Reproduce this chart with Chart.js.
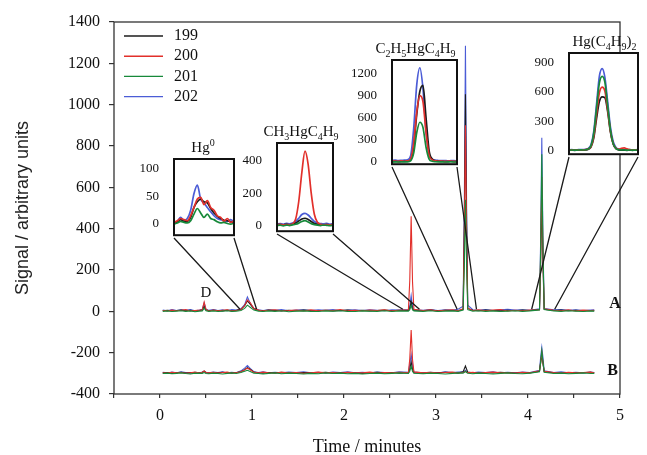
<!DOCTYPE html>
<html>
<head>
<meta charset="utf-8">
<script src="https://cdn.jsdelivr.net/npm/chart.js@4.4.1/dist/chart.umd.min.js"></script>
<style>
html,body{margin:0;padding:0;background:#fff;}
#wrap{position:relative;width:647px;height:455px;overflow:hidden;}
#main{position:absolute;left:0;top:0;}
</style>
</head>
<body>
<div id="wrap"><canvas id="main" width="647" height="455"></canvas></div>
<script>
// ---------------- DATA ----------------
const seriesNames = ['199', '200', '201', '202'];

// main chromatogram time axis (minutes)
const time = [0.03,0.08,0.13,0.18,0.23,0.28,0.33,0.38,0.43,0.46,0.48,0.50,0.53,0.58,0.63,0.68,0.73,0.78,0.83,0.88,
  0.92,0.95,0.98,1.02,1.07,1.12,1.18,1.25,1.32,1.40,1.48,1.56,1.64,1.72,1.80,1.88,1.96,2.04,2.12,2.20,
  2.28,2.36,2.44,2.52,2.60,2.70,2.715,2.73,2.745,2.76,2.86,2.94,3.02,3.10,3.18,3.24,3.295,3.308,3.32,3.333,
  3.345,3.40,3.46,3.54,3.62,3.70,3.78,3.86,3.94,4.02,4.125,4.138,4.15,4.163,4.176,4.28,4.36,4.44,4.52,4.60,4.68,4.72];

// Trace A
const a199 = [3,5,2,4,6,3,5,2,4, 6,25,7, 3,5,4,2,6,3,5, 10,28,50,35,12,
  5,3,6,4,2,5,3,6,4,3,5,2,4,6,3,5,2,4,6,3,5,4, 15,45,12, 4,3,6,2,5,4,3,
  10,430,1050,410,14, 5,3,6,4,2,5,3,6,4, 9,240,560,220,10, 4,6,3,5,2,4,3];
const a200 = [4,2,6,3,5,8,2,4,6, 8,45,9, 2,6,3,5,7,2,4, 8,28,55,42,14,
  6,2,5,8,3,4,6,2,7,3,5,4,8,2,5,3,6,4,7,2,5,8, 150,460,140, 10,4,7,2,5,8,3,
  12,370,900,350,15, 4,7,3,6,9,2,5,3,6, 8,280,650,250,12, 5,3,7,2,6,4,5];
const a201 = [0,2,-1,1,3,0,2,-2,1, 2,15,3, 0,2,-1,1,3,0,1, 4,14,30,20,6,
  1,-1,2,0,3,-2,1,2,0,-1,2,1,3,0,-1,2,1,0,3,-1,2,1, 8,30,7, 2,0,3,-1,1,2,0,
  6,220,540,210,8, 1,3,0,2,-1,1,3,0,2, 7,320,760,290,9, 2,0,3,1,-1,2,1];
const a202 = [6,3,8,4,7,5,9,3,6, 10,40,9, 5,8,4,7,3,9,6, 12,32,70,40,15,
  8,4,7,5,9,3,6,8,4,7,5,9,3,6,8,4,7,5,3,8,6,9, 25,75,22, 8,5,9,4,7,6,10,
  25,520,1285,490,30, 8,5,9,4,7,10,6,8,5, 12,360,840,330,14, 7,9,5,8,4,6,7];

// Trace B (plotted values)
const b199 = [-298,-296,-300,-297,-295,-299,-296,-298,-297, -296,-290,-297, -299,-296,-298,-295,-297,-299,-296,
  -292,-282,-272,-280,-294,
  -297,-299,-296,-298,-295,-297,-300,-296,-298,-297,-295,-299,-297,-296,-298,-300,-297,-295,-298,-296,-299,-297,
  -280,-245,-282, -297,-299,-296,-298,-295,-297,-299, -292,-278,-265,-280,-294,
  -297,-299,-296,-298,-295,-297,-299,-296,-298, -290,-250,-210,-255,-292, -297,-299,-296,-298,-297,-295,-298];
const b200 = [-297,-299,-295,-298,-296,-300,-297,-294,-298, -295,-288,-296, -298,-295,-299,-296,-294,-298,-297,
  -292,-284,-275,-283,-295,
  -298,-294,-297,-299,-295,-298,-296,-300,-297,-294,-298,-296,-299,-295,-297,-298,-294,-299,-296,-298,-295,-297,
  -230,-90,-235, -293,-298,-295,-299,-296,-294,-298, -296,-294,-290,-295,-297,
  -295,-299,-296,-294,-298,-297,-299,-295,-297, -288,-245,-200,-250,-290, -296,-299,-295,-298,-296,-294,-297];
const b201 = [-301,-299,-302,-300,-298,-301,-303,-299,-300, -300,-296,-301, -302,-299,-301,-303,-300,-298,-301,
  -296,-290,-285,-291,-299,
  -301,-303,-300,-298,-302,-299,-301,-303,-300,-302,-298,-301,-299,-302,-300,-303,-301,-299,-302,-300,-298,-301,
  -290,-265,-291, -300,-302,-299,-301,-303,-300,-298, -299,-295,-290,-296,-300,
  -302,-299,-301,-303,-300,-298,-301,-302,-299, -292,-240,-190,-245,-295, -301,-299,-302,-300,-298,-301,-300];
const b202 = [-295,-298,-294,-297,-293,-296,-299,-295,-297, -294,-289,-295, -297,-294,-296,-293,-298,-295,-297,
  -288,-275,-262,-276,-292,
  -296,-293,-297,-295,-298,-294,-296,-293,-297,-295,-299,-294,-296,-293,-297,-295,-298,-294,-296,-297,-293,-295,
  -255,-210,-258, -294,-297,-295,-298,-293,-296,-294, -293,-290,-285,-291,-295,
  -297,-294,-296,-293,-298,-295,-297,-294,-296, -285,-220,-175,-225,-288, -296,-293,-297,-295,-298,-294,-296];

const xTicks = [-0.5,0,0.5,1,1.5,2,2.5,3,3.5,4,4.5,5];
const xTickLabels = ['','0','','1','','2','','3','','4','','5'];
const yTicks = [-400,-200,0,200,400,600,800,1000,1200,1400];

// Insets
const insetTitles = ['Hg⁰', 'CH₃HgC₄H₉', 'C₂H₅HgC₄H₉', 'Hg(C₄H₉)₂'];
const insetWindows = [[0.87,1.05],[2.64,2.82],[3.23,3.44],[4.04,4.29]];
const insetYRanges = [[-20,117],[-35,510],[-30,1385],[-40,1000]];
const insetYTicks = [[0,50,100],[0,200,400],[0,300,600,900,1200],[0,300,600,900]];

const in1Time = [0.87,0.88,0.89,0.90,0.91,0.92,0.93,0.94,0.95,0.96,0.97,0.98,0.99,1.00,1.01,1.02,1.03,1.04,1.05];
const in1_199 = [2,4,8,5,5,12,30,40,45,40,38,28,20,14,10,7,6,4,3];
const in1_200 = [3,6,10,8,6,15,30,45,48,35,42,30,25,15,12,5,10,3,6];
const in1_201 = [0,2,5,3,2,6,18,28,20,12,18,10,8,4,2,3,1,0,2];
const in1_202 = [2,5,12,6,10,25,55,70,45,38,30,22,15,10,8,6,5,8,4];

const in2Time = [2.64,2.65,2.66,2.67,2.68,2.69,2.70,2.71,2.72,2.73,2.74,2.75,2.76,2.77,2.78,2.79,2.80,2.81,2.82];
const in2_199 = [5,6,3,8,5,8,15,28,40,45,38,25,12,8,5,4,6,3,5];
const in2_200 = [5,8,4,6,5,10,40,150,330,460,380,200,70,20,8,5,6,4,8];
const in2_201 = [0,2,-2,3,0,4,8,15,25,30,22,12,6,2,0,3,1,-1,2];
const in2_202 = [10,12,8,14,10,15,25,45,68,75,65,45,25,15,12,10,14,8,12];

const in3Time = [3.23,3.24,3.25,3.26,3.27,3.28,3.29,3.30,3.31,3.32,3.33,3.34,3.35,3.36,3.37,3.38,3.39,3.40,3.41,3.42,3.43,3.44];
const in3_199 = [5,8,6,5,8,10,30,200,650,960,1040,600,150,40,15,10,8,6,5,8,6,5];
const in3_200 = [10,12,8,15,10,15,40,250,680,900,820,400,90,30,15,10,12,8,10,12,8,10];
const in3_201 = [0,2,0,3,1,2,15,120,400,540,470,200,40,10,3,1,2,0,1,3,0,2];
const in3_202 = [20,25,20,22,25,30,80,450,1050,1280,1000,420,100,40,25,20,18,20,15,18,20,15];

const in4Time = [4.04,4.05,4.06,4.07,4.08,4.09,4.10,4.11,4.12,4.13,4.14,4.15,4.16,4.17,4.18,4.19,4.20,4.21,4.22,4.23,4.24,4.25,4.26,4.27,4.28,4.29];
const in4_199 = [0,1,0,1,2,1,3,10,35,130,330,500,550,540,400,190,65,18,5,2,1,0,1,0,1,0];
const in4_200 = [3,4,2,3,5,4,7,15,40,150,380,590,650,610,420,200,70,22,10,20,25,15,8,5,4,5];
const in4_201 = [2,3,1,2,4,3,6,15,50,180,440,690,760,700,460,210,70,20,6,4,3,2,3,1,2,3];
const in4_202 = [5,6,4,5,8,6,10,20,60,200,480,760,840,750,500,240,90,30,12,8,6,5,6,4,5,6];

const zoomAnchorY = 10;
const labelA = {text: 'A', x: 4.945, y: 34};
const labelB = {text: 'B', x: 4.92, y: -290};
const labelD = {text: 'D', x: 0.50, y: 87};

// ---------------- STYLE / LAYOUT ----------------
const colors = ['#1c1c1c', '#e2302b', '#17893a', '#4b5cd6'];
const drawOrder = [2, 1, 0, 3];        // lower = drawn on top
const SERIF = '"Liberation Serif", "DejaVu Serif", "Times New Roman", serif';
const SANS = '"Liberation Sans", Arial, sans-serif';
const insetBoxes = [[174,159,234,238],[277,143,333,234],[392,60,457,167],[569,53,638,157]];
const insetTitleDx = [-1, -4, -9, 1];

// ---------------- HELPERS ----------------
const SUBS = '₀₁₂₃₄₅₆₇₈₉', SUPS = '⁰¹²³⁴⁵⁶⁷⁸⁹';
function chemRuns(text) {
  const runs = [];
  for (const ch of text) {
    let k = 'n', s = ch, i;
    if ((i = SUBS.indexOf(ch)) >= 0) { k = 'sub'; s = String(i); }
    else if ((i = SUPS.indexOf(ch)) >= 0) { k = 'sup'; s = String(i); }
    const last = runs[runs.length - 1];
    if (last && last.k === k) last.s += s; else runs.push({k, s});
  }
  return runs;
}
function drawChem(ctx, text, cx, baseY, size) {
  const runs = chemRuns(text);
  const small = Math.round(size * 0.68);
  let total = 0;
  runs.forEach(r => { ctx.font = (r.k === 'n' ? size : small) + 'px ' + SERIF; r.w = ctx.measureText(r.s).width; total += r.w; });
  let xx = cx - total / 2;
  ctx.textAlign = 'left'; ctx.textBaseline = 'alphabetic';
  runs.forEach(r => {
    ctx.font = (r.k === 'n' ? size : small) + 'px ' + SERIF;
    const dy = r.k === 'sub' ? size * 0.27 : (r.k === 'sup' ? -size * 0.42 : 0);
    ctx.fillText(r.s, xx, baseY + dy);
    xx += r.w;
  });
}
const pts = (t, v) => t.map((x, i) => ({x, y: v[i]}));

// ---------------- MAIN CHART ----------------
const mainSeries = [[a199, b199], [a200, b200], [a201, b201], [a202, b202]];
const datasets = [];
mainSeries.forEach((pair, k) => {
  pair.forEach((vals, j) => {
    datasets.push({
      label: seriesNames[k] + (j ? ' B' : ' A'),
      data: pts(time, vals),
      borderColor: colors[k], backgroundColor: colors[k],
      borderWidth: 1.1, pointRadius: 0, tension: 0, fill: false,
      order: drawOrder[k]
    });
  });
});

const mainDecor = {
  id: 'mainDecor',
  afterDatasetsDraw(chart) {
    const {ctx, chartArea: ca, scales: {x, y}} = chart;
    ctx.save();
    ctx.strokeStyle = '#333'; ctx.lineWidth = 1.3;
    ctx.strokeRect(ca.left, ca.top, ca.right - ca.left, ca.bottom - ca.top);
    // zoom connector lines
    ctx.strokeStyle = '#1a1a1a'; ctx.lineWidth = 1.3;
    insetWindows.forEach((w, k) => {
      const [L, T, R, B] = insetBoxes[k];
      ctx.beginPath();
      ctx.moveTo(x.getPixelForValue(w[0]), y.getPixelForValue(zoomAnchorY)); ctx.lineTo(L, B);
      ctx.moveTo(x.getPixelForValue(w[1]), y.getPixelForValue(zoomAnchorY)); ctx.lineTo(R, B);
      ctx.stroke();
    });
    // legend
    ctx.font = '16px ' + SERIF; ctx.textAlign = 'left'; ctx.textBaseline = 'middle';
    seriesNames.forEach((n, k) => {
      const yy = 36 + k * 20.2;
      ctx.strokeStyle = colors[k]; ctx.lineWidth = 1.4;
      ctx.beginPath(); ctx.moveTo(124, yy); ctx.lineTo(163, yy); ctx.stroke();
      ctx.fillStyle = '#111'; ctx.fillText(n, 174, yy);
    });
    // labels
    ctx.fillStyle = '#111'; ctx.textAlign = 'center';
    ctx.font = 'bold 16px ' + SERIF;
    [labelA, labelB].forEach(l => ctx.fillText(l.text, x.getPixelForValue(l.x), y.getPixelForValue(l.y)));
    ctx.font = '15px ' + SERIF;
    ctx.fillText(labelD.text, x.getPixelForValue(labelD.x), y.getPixelForValue(labelD.y));
    ctx.restore();
  }
};

new Chart(document.getElementById('main'), {
  type: 'line',
  data: {datasets},
  options: {
    responsive: false, animation: false, devicePixelRatio: 1,
    layout: {padding: {left: 0, top: 22, right: 27, bottom: 0}},
    plugins: {legend: {display: false}, tooltip: {enabled: false}, title: {display: false}},
    scales: {
      x: {
        type: 'linear', min: -0.5, max: 5,
        afterFit: s => { s.height = 61; },
        afterBuildTicks: s => { s.ticks = xTicks.map(v => ({value: v})); },
        ticks: {callback: (v, i) => xTickLabels[i], autoSkip: false, maxRotation: 0, padding: 8,
                color: '#111', font: {family: SERIF, size: 16}},
        grid: {display: true, drawOnChartArea: false, drawTicks: true, tickLength: 4, color: '#333', lineWidth: 1.2},
        border: {display: false},
        title: {display: true, text: 'Time / minutes', color: '#111',
                font: {family: SERIF, size: 18, lineHeight: 0.9}, padding: {top: 0, bottom: 0}}
      },
      y: {
        type: 'linear', min: -400, max: 1400,
        afterFit: s => { s.width = 114; },
        afterBuildTicks: s => { s.ticks = yTicks.map(v => ({value: v})); },
        ticks: {callback: v => String(v), padding: 9, color: '#111', font: {family: SERIF, size: 16}},
        grid: {display: true, drawOnChartArea: false, drawTicks: true, tickLength: 5, color: '#333', lineWidth: 1.2},
        border: {display: false},
        title: {display: true, text: 'Signal / arbitrary units', color: '#222',
                font: {family: SANS, size: 18}, padding: {top: 12, bottom: 0}}
      }
    }
  },
  plugins: [mainDecor]
});

// ---------------- INSETS ----------------
const insetData = [
  [in1Time, [in1_199, in1_200, in1_201, in1_202]],
  [in2Time, [in2_199, in2_200, in2_201, in2_202]],
  [in3Time, [in3_199, in3_200, in3_201, in3_202]],
  [in4Time, [in4_199, in4_200, in4_201, in4_202]]
];

const insetDecor = {
  id: 'insetDecor',
  beforeDatasetsDraw(chart) {
    const {ctx, chartArea: ca} = chart;
    ctx.save(); ctx.fillStyle = '#fff';
    ctx.fillRect(ca.left, ca.top, ca.right - ca.left, ca.bottom - ca.top);
    ctx.restore();
  },
  afterDatasetsDraw(chart, args, opts) {
    const {ctx, chartArea: ca} = chart;
    ctx.save();
    ctx.strokeStyle = '#111'; ctx.lineWidth = 2;
    ctx.strokeRect(ca.left, ca.top, ca.right - ca.left, ca.bottom - ca.top);
    ctx.fillStyle = '#111';
    drawChem(ctx, opts.title, (ca.left + ca.right) / 2 + opts.dx, ca.top - 7, 15);
    ctx.restore();
  }
};

const wrap = document.getElementById('wrap');
insetBoxes.forEach((b, k) => {
  const [L, T, R, B] = b;
  const padL = 50, padT = 30, padR = 6, padB = 12;
  const cv = document.createElement('canvas');
  cv.width = (R - L) + padL + padR;
  cv.height = (B - T) + padT + padB;
  cv.style.position = 'absolute';
  cv.style.left = (L - padL) + 'px';
  cv.style.top = (T - padT) + 'px';
  wrap.appendChild(cv);
  const [t, series] = insetData[k];
  new Chart(cv, {
    type: 'line',
    data: {datasets: series.map((vals, j) => ({
      label: seriesNames[j], data: pts(t, vals),
      borderColor: colors[j], borderWidth: 1.7, pointRadius: 0, tension: 0.35,
      cubicInterpolationMode: 'monotone', fill: false, order: drawOrder[j]
    }))},
    options: {
      responsive: false, animation: false, devicePixelRatio: 1,
      layout: {padding: {left: 0, top: padT, right: padR, bottom: padB}},
      plugins: {legend: {display: false}, tooltip: {enabled: false},
                insetDecor: {title: insetTitles[k], dx: insetTitleDx[k]}},
      scales: {
        x: {type: 'linear', display: false, min: insetWindows[k][0], max: insetWindows[k][1]},
        y: {
          type: 'linear', min: insetYRanges[k][0], max: insetYRanges[k][1],
          afterFit: s => { s.width = padL; },
          afterBuildTicks: s => { s.ticks = insetYTicks[k].map(v => ({value: v})); },
          ticks: {callback: v => String(v), padding: 7, color: '#111', font: {family: SERIF, size: 13}},
          grid: {display: false}, border: {display: false}
        }
      }
    },
    plugins: [insetDecor]
  });
});
</script>
</body>
</html>
